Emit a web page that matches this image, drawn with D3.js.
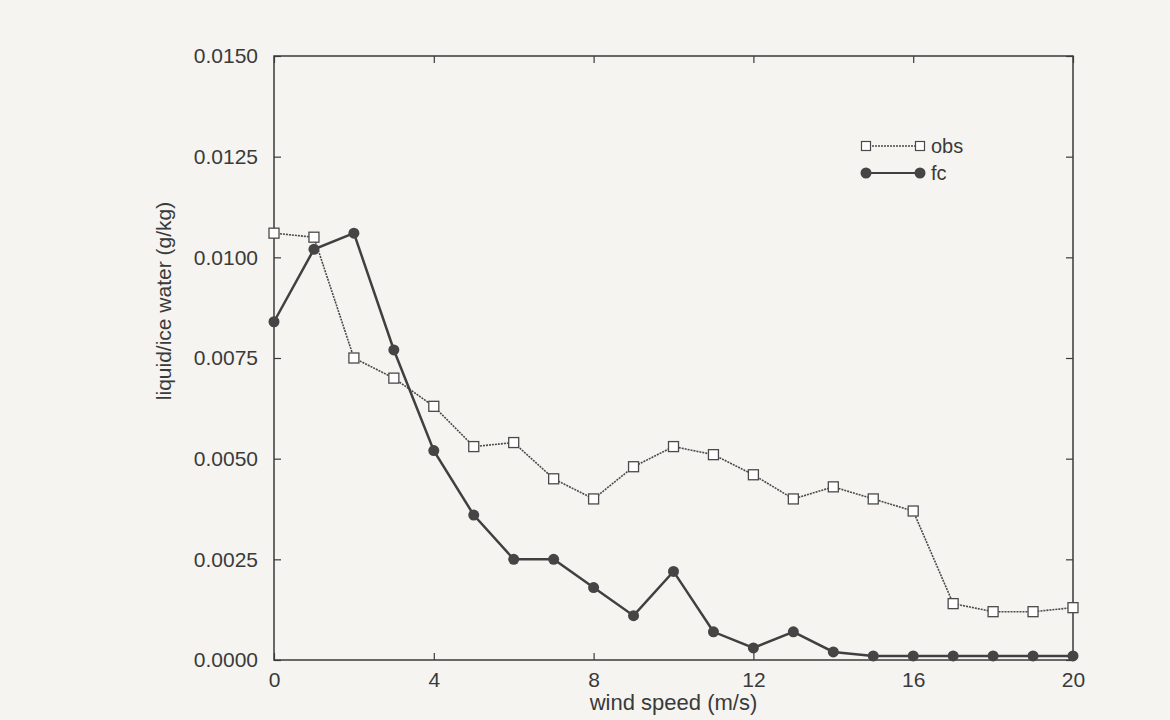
<!DOCTYPE html>
<html>
<head>
<meta charset="utf-8">
<script src="https://cdn.jsdelivr.net/npm/d3@7"></script>
<style>
  body { margin: 0; background: #f5f4f1; }
  text { font-family: "Liberation Sans", Arial, sans-serif; fill: #3a3a3a; }
</style>
</head>
<body>
<div id="chart"></div>
<script>
// wind speed (m/s), one point per 1 m/s
var windSpeed = d3.range(0, 21);
// observed liquid/ice water (g/kg)
var obsValues = [0.0106, 0.0105, 0.0075, 0.0070, 0.0063, 0.0053, 0.0054, 0.0045, 0.0040, 0.0048,
                 0.0053, 0.0051, 0.0046, 0.0040, 0.0043, 0.0040, 0.0037, 0.0014, 0.0012, 0.0012, 0.0013];
// forecast liquid/ice water (g/kg)
var fcValues = [0.0084, 0.0102, 0.0106, 0.0077, 0.0052, 0.0036, 0.0025, 0.0025, 0.0018, 0.0011,
                0.0022, 0.0007, 0.0003, 0.0007, 0.0002, 0.0001, 0.0001, 0.0001, 0.0001, 0.0001, 0.0001];
var xTicks = [0, 4, 8, 12, 16, 20];
var yTicks = [0, 0.0025, 0.005, 0.0075, 0.01, 0.0125, 0.015];

var width = 1170, height = 720;
var margin = {left: 274, right: 97, top: 56, bottom: 60};
var ink = "#3a3a3a";
var fontSize = "21px";

var svg = d3.select("#chart").append("svg")
    .attr("width", width)
    .attr("height", height)

var x = d3.scaleLinear().domain([0, 20]).range([margin.left, width - margin.right]);
var y = d3.scaleLinear().domain([0, 0.015]).range([height - margin.bottom, margin.top]);

// frame
svg.append("rect")
    .attr("x", x(0)).attr("y", y(0.015))
    .attr("width", x(20) - x(0)).attr("height", y(0) - y(0.015))
    .style("fill", "none").style("stroke", ink).style("stroke-width", 1.5);

// axes with inward ticks
var tickLen = 7;
var bottomAxis = svg.append("g")
    .attr("transform", "translate(0," + y(0) + ")")
    .call(d3.axisBottom(x).tickValues(xTicks).tickSize(-tickLen).tickPadding(12).tickFormat(d3.format("d")))
    .call(function(g){ g.select(".domain").remove(); });
bottomAxis.selectAll(".tick text").attr("dy", "0.72em");
svg.append("g")
    .attr("transform", "translate(0," + y(0.015) + ")")
    .call(d3.axisTop(x).tickValues(xTicks).tickSize(-tickLen).tickFormat(""))
    .call(function(g){ g.select(".domain").remove(); });
svg.append("g")
    .attr("transform", "translate(" + x(0) + ",0)")
    .call(d3.axisLeft(y).tickValues(yTicks).tickSize(-tickLen).tickPadding(16).tickFormat(d3.format(".4f")))
    .call(function(g){ g.select(".domain").remove(); });
svg.append("g")
    .attr("transform", "translate(" + x(20) + ",0)")
    .call(d3.axisRight(y).tickValues(yTicks).tickSize(-tickLen).tickFormat(""))
    .call(function(g){ g.select(".domain").remove(); });

svg.selectAll(".tick line").style("stroke", ink).style("stroke-width", 1.2);
svg.selectAll(".tick text").style("font-size", fontSize).style("fill", ink);

// axis titles
svg.append("text")
    .attr("x", (x(0) + x(20)) / 2)
    .attr("y", 710)
    .attr("text-anchor", "middle")
    .style("font-size", "22px")
    .text("wind speed (m/s)");
svg.append("text")
    .attr("transform", "translate(171," + 301 + ") rotate(-90)")
    .attr("text-anchor", "middle")
    .style("font-size", fontSize)
    .text("liquid/ice water (g/kg)");

var line = d3.line()
    .x(function(d, i){ return x(windSpeed[i]); })
    .y(function(d){ return y(d); });

// obs series
svg.append("path")
    .datum(obsValues)
    .attr("d", line)
    .style("fill", "none").style("stroke", "#4a4a4a").style("stroke-width", 1.6)
    .style("stroke-dasharray", "2,1");
svg.selectAll(".obs")
    .data(obsValues)
    .enter().append("rect")
    .attr("class", "obs")
    .attr("x", function(d, i){ return x(windSpeed[i]) - 5; })
    .attr("y", function(d){ return y(d) - 5; })
    .attr("width", 10).attr("height", 10)
    .style("fill", "#fff").style("stroke", "#4a4a4a").style("stroke-width", 1.3);

// fc series
svg.append("path")
    .datum(fcValues)
    .attr("d", line)
    .style("fill", "none").style("stroke", "#404040").style("stroke-width", 2.5);
svg.selectAll(".fc")
    .data(fcValues)
    .enter().append("circle")
    .attr("class", "fc")
    .attr("cx", function(d, i){ return x(windSpeed[i]); })
    .attr("cy", function(d){ return y(d); })
    .attr("r", 5.5)
    .style("fill", "#454545");

// legend
var legend = svg.append("g");
legend.append("line")
    .attr("x1", 866).attr("x2", 920).attr("y1", 146).attr("y2", 146)
    .style("stroke", "#4a4a4a").style("stroke-width", 1.4).style("stroke-dasharray", "2,1");
[866, 920].forEach(function(px){
    legend.append("rect")
        .attr("x", px - 4.5).attr("y", 141.5).attr("width", 9).attr("height", 9)
        .style("fill", "#fff").style("stroke", "#4a4a4a").style("stroke-width", 1.2);
});
legend.append("text").attr("x", 931).attr("y", 153).style("font-size", "20px").text("obs");
legend.append("line")
    .attr("x1", 866).attr("x2", 920).attr("y1", 173).attr("y2", 173)
    .style("stroke", "#404040").style("stroke-width", 2.2);
[866, 920].forEach(function(px){
    legend.append("circle").attr("cx", px).attr("cy", 173).attr("r", 5.5).style("fill", "#454545");
});
legend.append("text").attr("x", 931).attr("y", 180).style("font-size", "20px").text("fc");
</script>
</body>
</html>
